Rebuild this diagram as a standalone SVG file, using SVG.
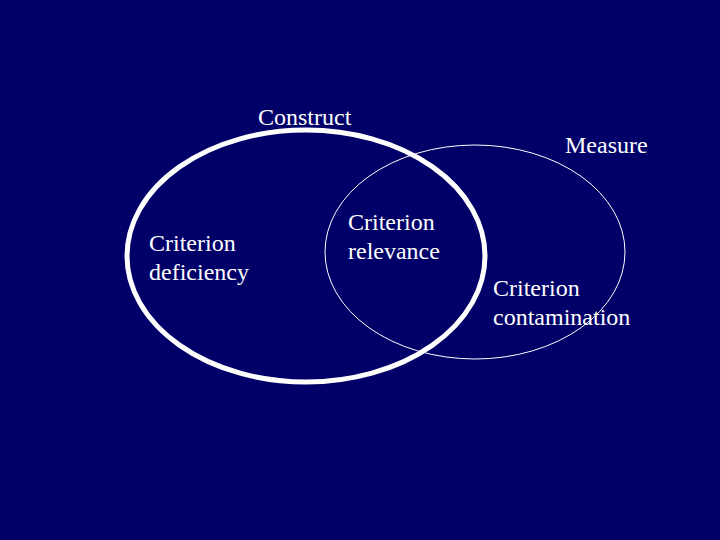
<svg xmlns="http://www.w3.org/2000/svg" width="720" height="540" viewBox="0 0 720 540">
<style>
text{font-family:"Liberation Serif","Times New Roman",serif;font-size:24px;fill:#fff}
</style>
<rect width="720" height="540" fill="#000068"/>
<g id="connectors"/>
<g id="construct">
<ellipse cx="306" cy="256" rx="179" ry="126" fill="none" stroke="#fff" stroke-width="5"/>
<text x="258" y="125">Construct</text>
</g>
<g id="measure">
<ellipse cx="475" cy="252" rx="150" ry="107" fill="none" stroke="#fff" stroke-width="1"/>
<text x="565" y="153">Measure</text>
</g>
<g id="deficiency">
<text x="149" y="251">Criterion</text>
<text x="149" y="280">deficiency</text>
</g>
<g id="relevance">
<text x="348" y="230">Criterion</text>
<text x="348" y="259">relevance</text>
</g>
<g id="contamination">
<text x="493" y="296">Criterion</text>
<text x="493" y="325">contamination</text>
</g>
</svg>
